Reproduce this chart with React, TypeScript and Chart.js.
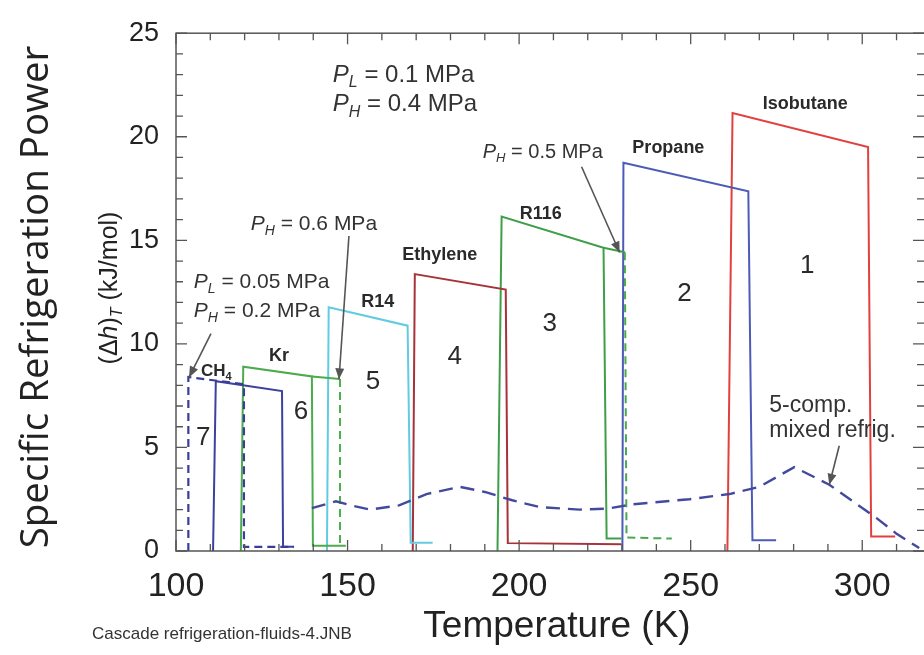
import React, { useEffect, useRef } from "react";
import { Chart, registerables } from "chart.js";

Chart.register(...registerables);

// ---------------- data (Temperature K, (Δh)_T kJ/mol) ----------------
const isobutaneT = [260.7, 262.2, 301.7, 302.6, 309.6];
const isobutaneH = [0, 21.15, 19.5, 0.7, 0.7];
const propaneT = [230.1, 230.4, 266.8, 268.0, 274.9];
const propaneH = [0, 18.74, 17.37, 0.52, 0.52];
const r116T = [193.7, 194.9, 224.6, 225.5, 229.8];
const r116H = [0, 16.15, 14.64, 0.6, 0.6];
const r116ExtT = [224.6, 230.8];
const r116ExtH = [14.64, 14.42];
const r116DashT = [230.8, 231.3, 244.5];
const r116DashH = [14.42, 0.65, 0.6];
const ethyleneT = [169.0, 169.6, 196.1, 196.7, 229.8];
const ethyleneH = [0, 13.37, 12.62, 0.38, 0.33];
const r14T = [144.0, 144.5, 167.5, 168.4, 174.8];
const r14H = [0, 11.77, 10.88, 0.4, 0.4];
const krT = [118.9, 119.6, 139.6, 139.9, 149.5];
const krH = [0, 8.9, 8.43, 0.25, 0.25];
const krExtT = [139.6, 147.8];
const krExtH = [8.43, 8.3];
const krDashT = [147.8, 147.8];
const krDashH = [8.3, 0.25];
const ch4T = [110.8, 111.6, 130.9, 131.2, 134.4];
const ch4H = [0, 8.2, 7.72, 0.2, 0.2];
const ch4DashT = [103.6, 103.6, 119.8, 119.8, 134.4];
const ch4DashH = [0, 8.4, 8.05, 0.2, 0.2];
const mixedT = [139.6, 146.6, 151, 156.5, 165, 173, 182.7, 190, 198, 206, 217.6, 226, 233, 249.6, 261.3, 270, 280.2, 290.4, 304.1, 309.9, 316.6];
const mixedH = [2.07, 2.4, 2.2, 2.0, 2.2, 2.75, 3.1, 2.85, 2.45, 2.12, 2.0, 2.05, 2.25, 2.5, 2.75, 3.1, 4.05, 3.2, 1.6, 0.85, 0.14];

const xTickValues = [100, 150, 200, 250, 300];
const yTickValues = [0, 5, 10, 15, 20, 25];
const xMin = 100;
const xMax = 318;
const yMin = 0;
const yMax = 25;

const fluidNames = ["Isobutane", "Propane", "R116", "Ethylene", "R14", "Kr"];
const fluidLabelT = [283.4, 243.5, 206.3, 176.9, 158.8, 130.0];
const fluidLabelH = [21.56, 19.44, 16.29, 14.27, 12.0, 9.42];
const stageNumbers = ["1", "2", "3", "4", "5", "6", "7"];
const stageT = [284.0, 248.2, 208.9, 181.2, 157.4, 136.4, 107.9];
const stageH = [13.79, 12.43, 10.97, 9.37, 8.15, 6.73, 5.46];

const SANS = "'Liberation Sans', Arial, Helvetica, sans-serif";

const pts = (t: number[], h: number[]) => t.map((v, i) => ({ x: v, y: h[i] }));

type Part = { t: string; italic?: boolean; bold?: boolean; sub?: boolean };

function drawRich(
  ctx: CanvasRenderingContext2D,
  parts: Part[],
  x: number,
  y: number,
  size: number,
  align: "left" | "center",
  color: string
) {
  const fontOf = (p: Part) =>
    `${p.italic ? "italic " : ""}${p.bold ? "bold " : ""}${p.sub ? Math.round(size * 0.65) : size}px ${SANS}`;
  let w = 0;
  for (const p of parts) {
    ctx.font = fontOf(p);
    w += ctx.measureText(p.t).width;
  }
  let cx = align === "center" ? x - w / 2 : x;
  ctx.textAlign = "left";
  ctx.textBaseline = "middle";
  ctx.fillStyle = color;
  for (const p of parts) {
    ctx.font = fontOf(p);
    ctx.fillText(p.t, cx, p.sub ? y + size * 0.32 : y);
    cx += ctx.measureText(p.t).width;
  }
}

function arrow(ctx: CanvasRenderingContext2D, x1: number, y1: number, x2: number, y2: number) {
  ctx.save();
  ctx.strokeStyle = "#555";
  ctx.fillStyle = "#555";
  ctx.lineWidth = 1.6;
  ctx.setLineDash([]);
  ctx.beginPath();
  ctx.moveTo(x1, y1);
  ctx.lineTo(x2, y2);
  ctx.stroke();
  const ang = Math.atan2(y2 - y1, x2 - x1);
  const L = 11;
  const W = 4.5;
  ctx.beginPath();
  ctx.moveTo(x2, y2);
  ctx.lineTo(x2 - L * Math.cos(ang) + W * Math.sin(ang), y2 - L * Math.sin(ang) - W * Math.cos(ang));
  ctx.lineTo(x2 - L * Math.cos(ang) - W * Math.sin(ang), y2 - L * Math.sin(ang) + W * Math.cos(ang));
  ctx.closePath();
  ctx.fill();
  ctx.restore();
}

const decorPlugin = {
  id: "decor",
  afterDraw(chart: any) {
    const { ctx, chartArea: a } = chart;
    const xs = chart.scales.x;
    const ys = chart.scales.y;
    const X = (t: number) => xs.getPixelForValue(t);
    const Y = (v: number) => ys.getPixelForValue(v);
    ctx.save();
    // frame
    ctx.strokeStyle = "#555";
    ctx.lineWidth = 1.5;
    ctx.setLineDash([]);
    ctx.strokeRect(a.left, a.top, a.right - a.left + 3, a.bottom - a.top);
    // tick marks (inward)
    ctx.lineWidth = 1.3;
    for (let v = yMin; v <= yMax; v += 1) {
      const len = v % 5 === 0 ? 11 : 7;
      const yy = Y(v);
      ctx.beginPath();
      ctx.moveTo(a.left, yy);
      ctx.lineTo(a.left + len, yy);
      ctx.moveTo(a.right, yy);
      ctx.lineTo(a.right - len, yy);
      ctx.stroke();
    }
    for (let t = xMin; t <= xMax; t += 10) {
      const len = t % 50 === 0 ? 11 : 7;
      const xx = X(t);
      ctx.beginPath();
      ctx.moveTo(xx, a.bottom);
      ctx.lineTo(xx, a.bottom - len);
      ctx.moveTo(xx, a.top);
      ctx.lineTo(xx, a.top + len);
      ctx.stroke();
    }

    // fluid labels
    const dark = "#2a2a2a";
    for (let i = 0; i < fluidNames.length; i++) {
      drawRich(ctx, [{ t: fluidNames[i], bold: true }], X(fluidLabelT[i]), Y(fluidLabelH[i]), 18, "center", dark);
    }
    drawRich(ctx, [{ t: "CH", bold: true }, { t: "4", bold: true, sub: true }], X(107.3), Y(8.66), 17, "left", dark);
    // stage numbers
    for (let i = 0; i < stageNumbers.length; i++) {
      drawRich(ctx, [{ t: stageNumbers[i] }], X(stageT[i]), Y(stageH[i]), 26, "center", dark);
    }
    // pressure annotations
    const g = "#333";
    drawRich(ctx, [{ t: "P", italic: true }, { t: "L", italic: true, sub: true }, { t: " = 0.1 MPa" }], X(145.7), Y(22.98), 24, "left", g);
    drawRich(ctx, [{ t: "P", italic: true }, { t: "H", italic: true, sub: true }, { t: " = 0.4 MPa" }], X(145.7), Y(21.56), 24, "left", g);
    drawRich(ctx, [{ t: "P", italic: true }, { t: "H", italic: true, sub: true }, { t: " = 0.5 MPa" }], X(189.4), Y(19.26), 20, "left", g);
    drawRich(ctx, [{ t: "P", italic: true }, { t: "H", italic: true, sub: true }, { t: " = 0.6 MPa" }], X(121.8), Y(15.77), 21, "left", g);
    drawRich(ctx, [{ t: "P", italic: true }, { t: "L", italic: true, sub: true }, { t: " = 0.05 MPa" }], X(105.2), Y(12.99), 21, "left", g);
    drawRich(ctx, [{ t: "P", italic: true }, { t: "H", italic: true, sub: true }, { t: " = 0.2 MPa" }], X(105.2), Y(11.58), 21, "left", g);
    drawRich(ctx, [{ t: "5-comp." }], X(272.9), Y(7.02), 23, "left", g);
    drawRich(ctx, [{ t: "mixed refrig." }], X(272.9), Y(5.79), 23, "left", g);

    arrow(ctx, X(218.2), Y(18.55), X(229.3), Y(14.41));
    arrow(ctx, X(150.4), Y(15.21), X(147.5), Y(8.29));
    arrow(ctx, X(110.2), Y(10.5), X(103.8), Y(8.38));
    arrow(ctx, X(293.3), Y(5.08), X(290.4), Y(3.2));

    // axis titles
    ctx.save();
    ctx.translate(37, 297);
    ctx.rotate(-Math.PI / 2);
    ctx.font = `38.5px 'Open Sans', 'Noto Sans', sans-serif`;
    ctx.fillStyle = "#222";
    ctx.textAlign = "center";
    ctx.textBaseline = "middle";
    ctx.fillText("Specific Refrigeration Power", 0, 0);
    ctx.restore();

    ctx.save();
    ctx.translate(110, 288);
    ctx.rotate(-Math.PI / 2);
    drawRich(
      ctx,
      [{ t: "(Δ" }, { t: "h", italic: true }, { t: ")" }, { t: "T", italic: true, sub: true }, { t: " (kJ/mol)" }],
      0,
      0,
      25,
      "center",
      "#222"
    );
    ctx.restore();

    ctx.font = `37px ${SANS}`;
    ctx.fillStyle = "#222";
    ctx.textAlign = "center";
    ctx.textBaseline = "middle";
    ctx.fillText("Temperature (K)", 557, 627);

    ctx.font = `17px ${SANS}`;
    ctx.fillStyle = "#333";
    ctx.textAlign = "left";
    ctx.fillText("Cascade refrigeration-fluids-4.JNB", 92, 634);
    ctx.restore();
  },
};

export default function App() {
  const ref = useRef<HTMLCanvasElement>(null);
  useEffect(() => {
    if (!ref.current) return;
    const line = (data: any[], color: string, dash: number[] = [], width = 2) => ({
      data,
      borderColor: color,
      backgroundColor: color,
      borderWidth: width,
      borderDash: dash,
      showLine: true,
      pointRadius: 0,
      tension: 0,
      fill: false,
      clip: false as any,
    });
    const chart = new Chart(ref.current, {
      type: "scatter",
      data: {
        datasets: [
          { label: "5-comp. mixed refrig.", ...line(pts(mixedT, mixedH), "#434a9e", [14, 8], 2.4) },
          { label: "CH4 (PL 0.05, PH 0.2 MPa)", ...line(pts(ch4DashT, ch4DashH), "#3a3d9a", [8, 5], 2.2) },
          { label: "CH4", ...line(pts(ch4T, ch4H), "#3d409e") },
          { label: "Kr", ...line(pts(krT, krH), "#4cab4c") },
          { label: "Kr ext", ...line(pts(krExtT, krExtH), "#4cab4c") },
          { label: "Kr PH 0.6", ...line(pts(krDashT, krDashH), "#4cb04c", [8, 5]) },
          { label: "R14", ...line(pts(r14T, r14H), "#62cbe0") },
          { label: "Ethylene", ...line(pts(ethyleneT, ethyleneH), "#a8323a") },
          { label: "R116", ...line(pts(r116T, r116H), "#3f9e48") },
          { label: "R116 ext", ...line(pts(r116ExtT, r116ExtH), "#3f9e48") },
          { label: "R116 PH 0.5", ...line(pts(r116DashT, r116DashH), "#4aa84f", [8, 5]) },
          { label: "Propane", ...line(pts(propaneT, propaneH), "#4d5bb8") },
          { label: "Isobutane", ...line(pts(isobutaneT, isobutaneH), "#e2403f") },
        ],
      },
      options: {
        animation: false,
        responsive: false,
        devicePixelRatio: 1,
        layout: { padding: { top: 20, right: 0, left: 0, bottom: 0 } },
        plugins: { legend: { display: false }, tooltip: { enabled: false } },
        scales: {
          x: {
            type: "linear",
            min: xMin,
            max: xMax,
            grid: { display: false, drawTicks: false },
            border: { display: false },
            afterBuildTicks: (s: any) => {
              s.ticks = xTickValues.map((v) => ({ value: v }));
            },
            afterFit: (s: any) => {
              s.height = 104;
            },
            ticks: {
              font: { family: SANS, size: 34 },
              color: "#222",
              padding: 15,
              maxRotation: 0,
              autoSkip: false,
            },
          },
          y: {
            type: "linear",
            min: yMin,
            max: yMax,
            grid: { display: false, drawTicks: false },
            border: { display: false },
            afterBuildTicks: (s: any) => {
              s.ticks = yTickValues.map((v) => ({ value: v }));
            },
            afterFit: (s: any) => {
              s.width = 176;
            },
            ticks: {
              font: { family: SANS, size: 27 },
              color: "#222",
              padding: 17,
              autoSkip: false,
            },
          },
        },
      },
      plugins: [decorPlugin],
    });
    return () => chart.destroy();
  }, []);
  return (
    <div style={{ position: "absolute", left: 0, top: 0, width: 924, height: 655, background: "#fff" }}>
      <canvas ref={ref} width={924} height={655} style={{ display: "block" }} />
    </div>
  );
}
